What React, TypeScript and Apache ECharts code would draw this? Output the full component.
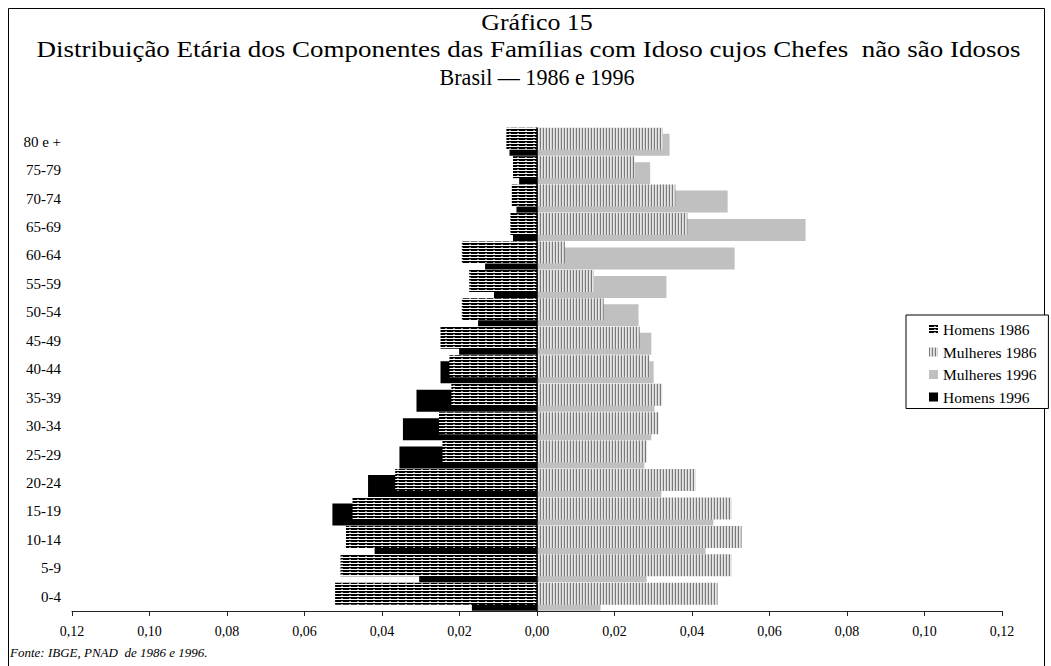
import React, { useEffect, useRef } from 'react';
import * as echarts from 'echarts';

const categories = ['0-4', '5-9', '10-14', '15-19', '20-24', '25-29', '30-34', '35-39', '40-44', '45-49', '50-54', '55-59', '60-64', '65-69', '70-74', '75-79', '80 e +'];
const homens1986 = [-0.0521, -0.0507, -0.0493, -0.0476, -0.0366, -0.0244, -0.0253, -0.0221, -0.0226, -0.0249, -0.0194, -0.0175, -0.0194, -0.0069, -0.0065, -0.0062, -0.0079];
const mulheres1986 = [0.0466, 0.0502, 0.0528, 0.0502, 0.0409, 0.0284, 0.0314, 0.0323, 0.029, 0.0265, 0.0172, 0.0147, 0.0072, 0.0388, 0.0357, 0.0252, 0.0325];
const mulheres1996 = [0.0164, 0.0283, 0.0435, 0.0455, 0.0321, 0.0277, 0.0295, 0.0303, 0.0301, 0.0295, 0.0262, 0.0334, 0.051, 0.0693, 0.0492, 0.0292, 0.0342];
const homens1996 = [-0.0168, -0.0304, -0.0419, -0.0528, -0.0436, -0.0355, -0.0346, -0.0311, -0.0249, -0.0201, -0.0152, -0.0111, -0.0134, -0.0062, -0.0053, -0.0046, -0.0071];

const titleLines = ['Gráfico 15', 'Distribuição Etária dos Componentes das Famílias com Idoso cujos Chefes  não são Idosos', 'Brasil — 1986 e 1996'];
const sourceNote = 'Fonte: IBGE, PNAD  de 1986 e 1996.';

const FONT = '"Liberation Serif", "Times New Roman", serif';

function makePattern(w: number, h: number, draw: (ctx: CanvasRenderingContext2D) => void) {
  const c = document.createElement('canvas');
  c.width = w;
  c.height = h;
  const ctx = c.getContext('2d') as CanvasRenderingContext2D;
  draw(ctx);
  return { image: c.toDataURL(), repeat: 'repeat', imageWidth: w, imageHeight: h } as any;
}

export default function App() {
  const ref = useRef<HTMLDivElement>(null);
  useEffect(() => {
    if (!ref.current) return;
    const chart = echarts.init(ref.current, null, { renderer: 'svg' });

    const patH = makePattern(8, 3, (ctx) => {
      ctx.fillStyle = '#ffffff';
      ctx.fillRect(0, 0, 8, 3);
      ctx.fillStyle = '#000000';
      ctx.fillRect(0, 0, 8, 2);
      ctx.fillStyle = '#909090';
      ctx.fillRect(5, 1, 2, 1);
    });
    const patM = makePattern(3, 4, (ctx) => {
      ctx.fillStyle = '#e6e6e6';
      ctx.fillRect(0, 0, 3, 4);
      ctx.fillStyle = '#7a7a7a';
      ctx.fillRect(0, 0, 1, 4);
      ctx.fillStyle = '#d2d2d2';
      ctx.fillRect(2, 0, 1, 4);
    });

    const titleFont = `24px ${FONT}`;
    const option: any = {
      animation: false,
      backgroundColor: '#ffffff',
      grid: { left: 72, right: 49, top: 127.5, bottom: 55, containLabel: false },
      graphic: [
        {
          type: 'rect', silent: true, z: 0,
          shape: { x: 8.5, y: 8.5, width: 1036, height: 700 },
          style: { fill: 'none', stroke: '#000', lineWidth: 1 },
        },
        {
          type: 'text', x: 537, y: 22, scaleX: 1.08,
          style: { text: titleLines[0], font: titleFont, fill: '#000', textAlign: 'center', textVerticalAlign: 'middle' },
        },
        {
          type: 'text', x: 528.5, y: 49.5, scaleX: 1.125,
          style: { text: titleLines[1], font: titleFont, fill: '#000', textAlign: 'center', textVerticalAlign: 'middle' },
        },
        {
          type: 'text', x: 537, y: 77, scaleX: 0.92,
          style: { text: titleLines[2], font: titleFont, fill: '#000', textAlign: 'center', textVerticalAlign: 'middle' },
        },
        {
          type: 'text', x: 10, y: 652,
          style: { text: sourceNote, font: `italic 13px ${FONT}`, fill: '#000', textAlign: 'left', textVerticalAlign: 'middle' },
        },
      ],
      legend: {
        orient: 'vertical',
        left: 906,
        top: 315,
        padding: [6.5, 12, 3.5, 23],
        itemWidth: 9,
        itemHeight: 9,
        itemGap: 6.5,
        icon: 'rect',
        selectedMode: false,
        backgroundColor: '#ffffff',
        borderColor: '#000',
        borderWidth: 1,
        textStyle: { fontFamily: FONT, fontSize: 15.5, color: '#000' },
        data: ['Homens 1986', 'Mulheres 1986', 'Mulheres 1996', 'Homens 1996'],
      },
      xAxis: {
        type: 'value',
        min: -0.12,
        max: 0.12,
        interval: 0.02,
        axisLine: { show: true, lineStyle: { color: '#222', width: 1 } },
        axisTick: { show: true, inside: false, length: 5, lineStyle: { color: '#222' } },
        splitLine: { show: false },
        axisLabel: {
          margin: 13,
          fontFamily: FONT,
          fontSize: 14,
          color: '#000',
          formatter: (v: number) => Math.abs(v).toFixed(2).replace('.', ','),
        },
      },
      yAxis: {
        type: 'category',
        data: categories,
        axisLine: { show: false, onZero: false },
        axisTick: { show: false },
        axisLabel: { margin: 11, fontFamily: FONT, fontSize: 15, color: '#000' },
      },
      series: [
        {
          name: 'Homens 1986', type: 'bar', stack: 'a', data: homens1986,
          barWidth: 22, barGap: '-72.7%', z: 3,
          itemStyle: { color: patH },
          markLine: {
            silent: true, symbol: ['none', 'none'], label: { show: false },
            lineStyle: { color: '#000', width: 1.5, type: 'solid' },
            data: [{ xAxis: 0 }],
          },
        },
        {
          name: 'Mulheres 1986', type: 'bar', stack: 'a', data: mulheres1986,
          barWidth: 22, z: 3,
          itemStyle: { color: patM },
        },
        {
          name: 'Mulheres 1996', type: 'bar', stack: 'b', data: mulheres1996,
          barWidth: 22, barGap: '-72.7%', z: 2,
          itemStyle: { color: '#c0c0c0' },
        },
        {
          name: 'Homens 1996', type: 'bar', stack: 'b', data: homens1996,
          barWidth: 22, z: 2,
          itemStyle: { color: '#000000' },
        },
      ],
    };
    chart.setOption(option);
    return () => chart.dispose();
  }, []);
  return <div ref={ref} style={{ position: 'absolute', left: 0, top: 0, width: 1051, height: 666, background: '#fff' }} />;
}
